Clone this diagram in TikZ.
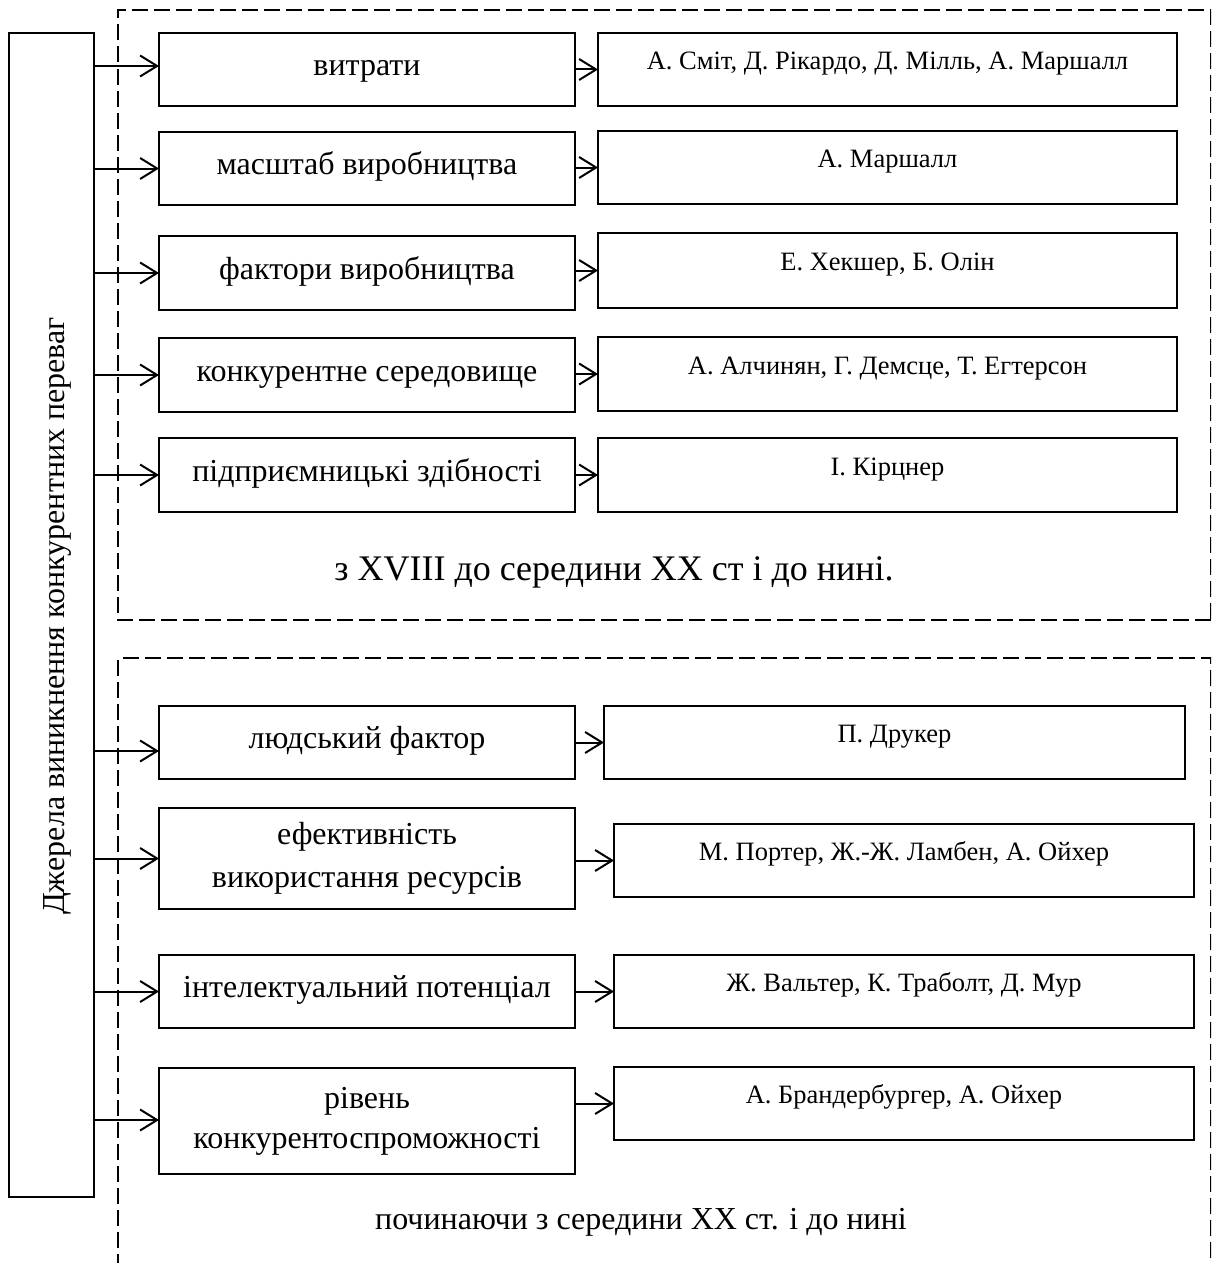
\documentclass[tikz,border=0pt]{standalone}
\usepackage{fontspec}
\setmainfont{Liberation Serif}
\usetikzlibrary{arrows.meta,calc}
\begin{document}
\begin{tikzpicture}[x=1pt,y=-1pt,
  box/.style={draw,line width=2.6pt,rectangle,inner sep=0pt,outer sep=0pt},
  mid/.style={box,minimum width=416pt,minimum height=73pt,font=\fontsize{32}{43}\selectfont,text height=22pt,text depth=10pt},
  midtwo/.style={box,minimum width=416pt,align=center,font=\fontsize{32}{43}\selectfont},
  rbox/.style={box,minimum height=73pt,font=\fontsize{26.5}{32}\selectfont,text height=20pt,text depth=20pt},
  arr/.style={line width=2pt,-{Straight Barb[length=17pt,width=21pt,line width=2pt]}},
  dsh/.style={line width=2pt,dash pattern=on 16pt off 6pt},
  lbl/.style={font=\fontsize{32}{40}\selectfont,inner sep=0pt}
]
\clip (0,0) rectangle (1211,1263);
\fill[white] (0,0) rectangle (1211,1263);

% dashed frames
\draw[dsh] (1210.5,620) -- (118,620) -- (118,10) -- (1210.5,10) -- (1210.5,620);
\draw[dsh] (1210.5,1280) -- (1210.5,658) -- (118,658) -- (118,1280);

% left box
\node[box,minimum width=85pt,minimum height=1164pt] (L) at (51.5,615) {};
\node[lbl,rotate=90] (Lt) at (57,616) {Джерела виникнення конкурентних переваг};

% middle column
\node[mid,minimum height=73pt] (m1) at (367,69.5) {витрати};
\node[mid,minimum height=73pt] (m2) at (367,168.5) {масштаб виробництва};
\node[mid,minimum height=74pt] (m3) at (367,273) {фактори виробництва};
\node[mid,minimum height=74pt] (m4) at (367,375) {конкурентне середовище};
\node[mid,minimum height=74pt] (m5) at (367,475) {підприємницькі здібності};
\node[mid,minimum height=73pt] (m6) at (367,742.5) {людський фактор};
\node[midtwo,minimum height=101pt] (m7) at (367,858.5) {ефективність\\використання ресурсів};
\node[mid,minimum height=73pt] (m8) at (367,991.5) {інтелектуальний потенціал};
\node[midtwo,minimum height=106pt,font=\fontsize{32}{40}\selectfont] (m9) at (367,1121) {рівень\\конкурентоспроможності};

% right column
\node[rbox,minimum width=579pt] (r1) at (887.5,69.5) {А. Сміт, Д. Рікардо, Д. Мілль, А. Маршалл};
\node[rbox,minimum width=579pt] (r2) at (887.5,167.5) {А. Маршалл};
\node[rbox,minimum width=579pt,minimum height=75pt] (r3) at (887.5,270.5) {Е. Хекшер, Б. Олін};
\node[rbox,minimum width=579pt,minimum height=74pt] (r4) at (887.5,374) {А. Алчинян, Г. Демсце, Т. Егтерсон};
\node[rbox,minimum width=579pt,minimum height=74pt] (r5) at (887.5,475) {І. Кірцнер};
\node[rbox,minimum width=581pt] (r6) at (894.5,742.5) {П. Друкер};
\node[rbox,minimum width=580pt] (r7) at (904,860.5) {М. Портер, Ж.-Ж. Ламбен, А. Ойхер};
\node[rbox,minimum width=580pt] (r8) at (904,991.5) {Ж. Вальтер, К. Траболт, Д. Мур};
\node[rbox,minimum width=580pt] (r9) at (904,1103.5) {А. Брандербургер, А. Ойхер};

% arrows from the left box
\draw[arr] ([yshift=3.5pt]L.east |- m1.west) -- ([yshift=3.5pt]m1.west);
\foreach \i in {2,3,4,5,7,8}{
  \draw[arr] (L.east |- m\i.west) -- (m\i.west);
}
\draw[arr] ([yshift=1pt]L.east |- m9.west) -- ([yshift=1pt]m9.west);
\draw[arr] ([yshift=-8.5pt]L.east |- m6.west) -- ([yshift=-8.5pt]m6.west);

% arrows to the right boxes
\foreach \i in {1,2,3,4,5,6,7,8,9}{
  \draw[arr] (m\i.east |- r\i.west) -- (r\i.west);
}

% period labels
\node[lbl,font=\fontsize{36}{40}\selectfont] (p1) at (614,572) {з XVIII до середини XX ст і до нині.};
\node[lbl] (p2) at (641,1222) {починаючи з середини XX ст. і до нині};
\end{tikzpicture}
\end{document}
